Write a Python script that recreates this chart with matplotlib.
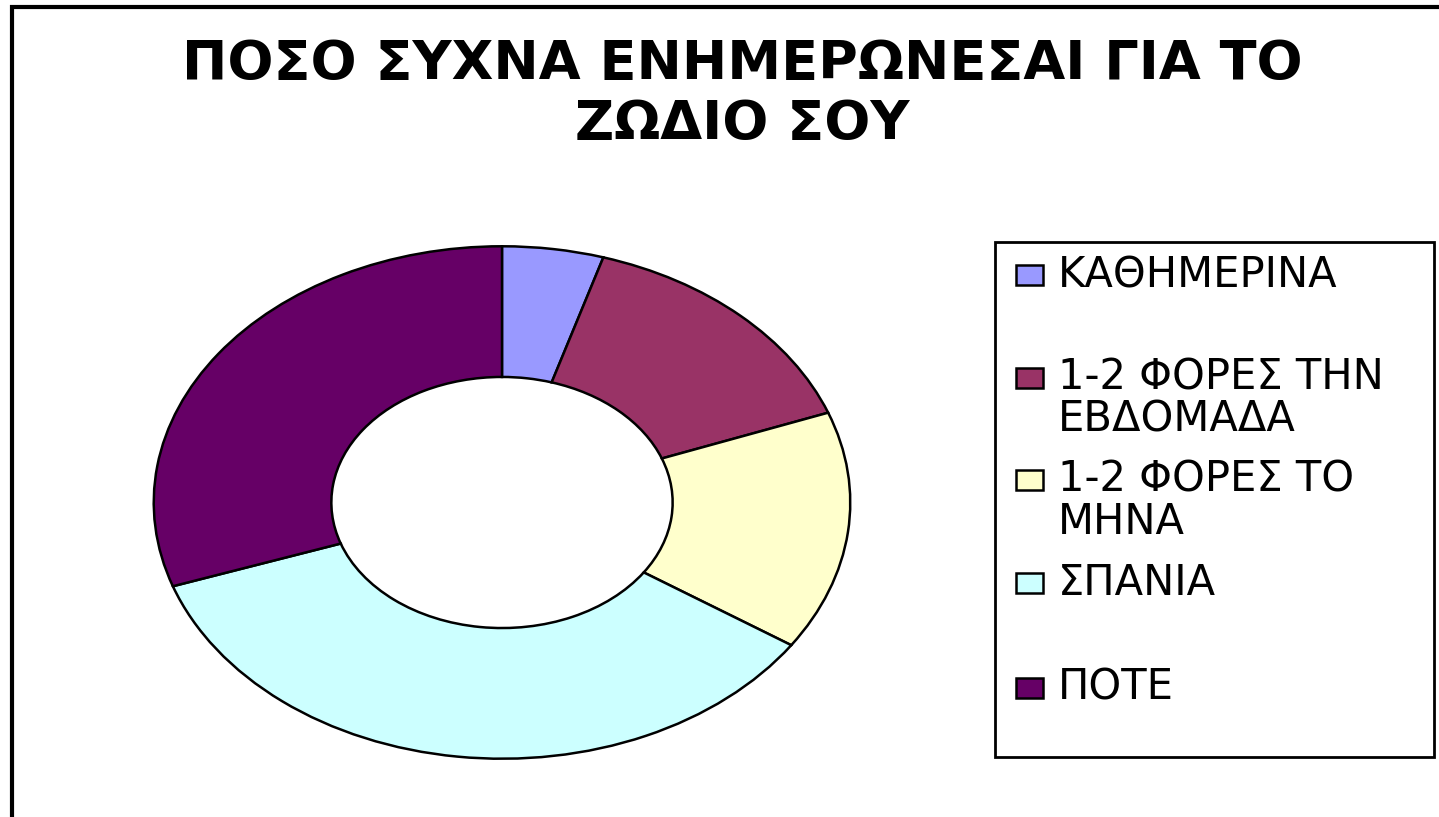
import matplotlib
matplotlib.use('Agg')
import matplotlib.pyplot as plt
from matplotlib.patches import Rectangle

# data (percent)
categories = ['ΚΑΘΗΜΕΡΙΝΑ', '1-2 ΦΟΡΕΣ ΤΗΝ\nΕΒΔΟΜΑΔΑ', '1-2 ΦΟΡΕΣ ΤΟ\nΜΗΝΑ', 'ΣΠΑΝΙΑ', 'ΠΟΤΕ']
values = [4.7, 14.6, 15.1, 35.3, 30.3]
colors = ['#9999FF', '#993366', '#FFFFCC', '#CCFFFF', '#660066']
title = 'ΠΟΣΟ ΣΥΧΝΑ ΕΝΗΜΕΡΩΝΕΣΑΙ ΓΙΑ ΤΟ\nΖΩΔΙΟ ΣΟΥ'

W, H = 1439, 817
fig = plt.figure(figsize=(W / 100, H / 100), dpi=100)

def fx(px):
    return px / W

def fy(py):
    return 1 - py / H

# outer chart border (cropped on right and bottom)
fig.add_artist(Rectangle((fx(12), fy(900)), fx(1500), fy(7) - fy(900),
                         transform=fig.transFigure, fill=False,
                         edgecolor='black', linewidth=3))

# title
fig.text(fx(742), fy(94), title, ha='center', va='center', fontsize=39,
         fontweight='bold', family='DejaVu Sans', linespacing=1.2)

# doughnut, stretched into an ellipse
ax = fig.add_axes([fx(152), fy(760), fx(852) - fx(152), fy(245) - fy(760)])
ax.pie(values, colors=colors, startangle=90, counterclock=False,
       wedgeprops=dict(width=0.51, edgecolor='black', linewidth=1.8))
ax.set_aspect('auto')
ax.set_xlim(-1.005, 1.005)
ax.set_ylim(-1.005, 1.005)
ax.axis('off')

# legend drawn by hand to match the original layout
fig.add_artist(Rectangle((fx(995), fy(757)), fx(1434) - fx(995), fy(242) - fy(757),
                         transform=fig.transFigure, fill=True, facecolor='white',
                         edgecolor='black', linewidth=2))
row_y = [275, 378, 480, 583, 688]
for lab, col, y in zip(categories, colors, row_y):
    fig.add_artist(Rectangle((fx(1016), fy(y + 10)), fx(27), fy(y - 10) - fy(y + 10),
                             transform=fig.transFigure, facecolor=col,
                             edgecolor='black', linewidth=1.8))
    fig.text(fx(1058), fy(y - 21), lab, ha='left', va='top', fontsize=30,
             family='DejaVu Sans', linespacing=1.0)

fig.savefig('out.png', dpi=100)
